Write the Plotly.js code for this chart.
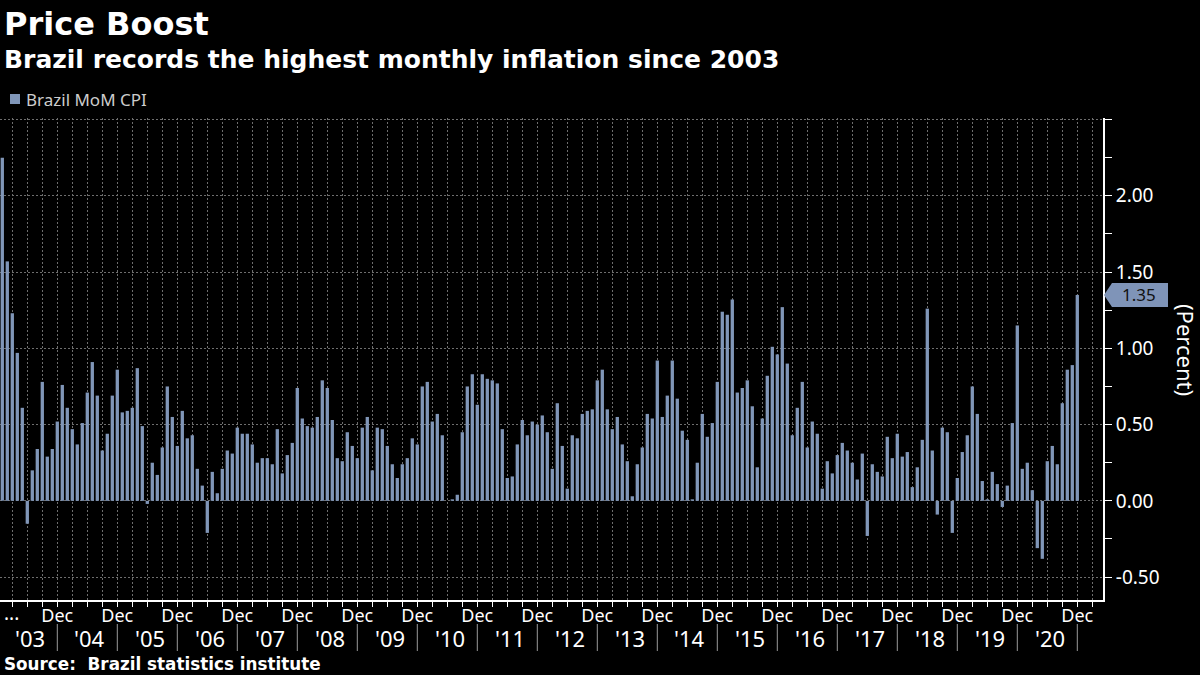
<!DOCTYPE html>
<html>
<head>
<meta charset="utf-8">
<script src="https://cdn.plot.ly/plotly-3.0.1.min.js"></script>
<style>
  html, body { margin: 0; padding: 0; background: #000; }
  #chart { width: 1200px; height: 675px; }
</style>
</head>
<body>
<div id="chart"></div>
<script>
// Brazil IPCA month-over-month, percent (Jan..Dec of each year)
const yearLabels = ["'03","'04","'05","'06","'07","'08","'09","'10","'11","'12","'13","'14","'15","'16","'17","'18","'19","'20"];
const cpi2003 = [2.25, 1.57, 1.23, 0.97, 0.61, -0.15, 0.20, 0.34, 0.78, 0.29, 0.34, 0.52];
const cpi2004 = [0.76, 0.61, 0.47, 0.37, 0.51, 0.71, 0.91, 0.69, 0.33, 0.44, 0.69, 0.86];
const cpi2005 = [0.58, 0.59, 0.61, 0.87, 0.49, -0.02, 0.25, 0.17, 0.35, 0.75, 0.55, 0.36];
const cpi2006 = [0.59, 0.41, 0.43, 0.21, 0.10, -0.21, 0.19, 0.05, 0.21, 0.33, 0.31, 0.48];
const cpi2007 = [0.44, 0.44, 0.37, 0.25, 0.28, 0.28, 0.24, 0.47, 0.18, 0.30, 0.38, 0.74];
const cpi2008 = [0.54, 0.49, 0.48, 0.55, 0.79, 0.74, 0.53, 0.28, 0.26, 0.45, 0.36, 0.28];
const cpi2009 = [0.48, 0.55, 0.20, 0.48, 0.47, 0.36, 0.24, 0.15, 0.24, 0.28, 0.41, 0.37];
const cpi2010 = [0.75, 0.78, 0.52, 0.57, 0.43, 0.00, 0.01, 0.04, 0.45, 0.75, 0.83, 0.63];
const cpi2011 = [0.83, 0.80, 0.79, 0.77, 0.47, 0.15, 0.16, 0.37, 0.53, 0.43, 0.52, 0.50];
const cpi2012 = [0.56, 0.45, 0.21, 0.64, 0.36, 0.08, 0.43, 0.41, 0.57, 0.59, 0.60, 0.79];
const cpi2013 = [0.86, 0.60, 0.47, 0.55, 0.37, 0.26, 0.03, 0.24, 0.35, 0.57, 0.54, 0.92];
const cpi2014 = [0.55, 0.69, 0.92, 0.67, 0.46, 0.40, 0.01, 0.25, 0.57, 0.42, 0.51, 0.78];
const cpi2015 = [1.24, 1.22, 1.32, 0.71, 0.74, 0.79, 0.62, 0.22, 0.54, 0.82, 1.01, 0.96];
const cpi2016 = [1.27, 0.90, 0.43, 0.61, 0.78, 0.35, 0.52, 0.44, 0.08, 0.26, 0.18, 0.30];
const cpi2017 = [0.38, 0.33, 0.25, 0.14, 0.31, -0.23, 0.24, 0.19, 0.16, 0.42, 0.28, 0.44];
const cpi2018 = [0.29, 0.32, 0.09, 0.22, 0.40, 1.26, 0.33, -0.09, 0.48, 0.45, -0.21, 0.15];
const cpi2019 = [0.32, 0.43, 0.75, 0.57, 0.13, 0.01, 0.19, 0.11, -0.04, 0.10, 0.51, 1.15];
const cpi2020 = [0.21, 0.25, 0.07, -0.31, -0.38, 0.26, 0.36, 0.24, 0.64, 0.86, 0.89, 1.35];
const yTickVals = [-0.5, 0, 0.5, 1, 1.5, 2, 2.5];
const yTickText = ["-0.50", "0.00", "0.50", "1.00", "1.50", "2.00", ""];
const seriesName = "Brazil MoM CPI";

const cpi = [].concat(cpi2003, cpi2004, cpi2005, cpi2006, cpi2007, cpi2008, cpi2009, cpi2010, cpi2011,
  cpi2012, cpi2013, cpi2014, cpi2015, cpi2016, cpi2017, cpi2018, cpi2019, cpi2020);
const monthIdx = cpi.map((_, i) => i);
const decIdx = yearLabels.map((_, k) => 11 + 12 * k);

const Y0 = -0.65, Y1 = 2.51;
const plotW = 1103, plotH = 482;
const TXT = "Noto Sans, Open Sans, sans-serif";
const BOLD = "DejaVu Sans, Verdana, sans-serif";
const grid = "#6e6e6e";
const barColor = "#8096b8";
const px = v => v / plotW;               // pixel x -> paper
const py = v => (600 - v) / plotH;        // pixel y -> paper

const annotations = [];
annotations.push({xref: "paper", yref: "paper", x: px(2), y: py(24), xanchor: "left", yanchor: "middle",
  text: "<b>Price Boost</b>", showarrow: false, font: {family: BOLD, size: 32, color: "#ffffff"}});
annotations.push({xref: "paper", yref: "paper", x: px(2), y: py(60), xanchor: "left", yanchor: "middle",
  text: "<b>Brazil records the highest monthly inflation since 2003</b>", showarrow: false, font: {family: BOLD, size: 25, color: "#ffffff"}});
annotations.push({xref: "paper", yref: "paper", x: px(2), y: py(664), xanchor: "left", yanchor: "middle",
  text: "<b>Source:  Brazil statistics institute</b>", showarrow: false, font: {family: BOLD, size: 16.8, color: "#ffffff"}});
annotations.push({xref: "paper", yref: "paper", x: px(24), y: py(100), xanchor: "left", yanchor: "middle",
  text: seriesName, showarrow: false, font: {family: TXT, size: 17, color: "#cccccc"}});
annotations.push({xref: "paper", yref: "paper", x: px(11), y: py(613), xanchor: "center", yanchor: "middle",
  text: "...", showarrow: false, font: {family: TXT, size: 19, color: "#ffffff"}});
yearLabels.forEach((lab, k) => {
  annotations.push({xref: "x", yref: "paper", x: 5.5 + 12 * k, y: py(638), xanchor: "center", yanchor: "middle",
    text: lab, showarrow: false, font: {family: TXT, size: 22, color: "#ffffff"}});
});
// last value label
const lastVal = cpi[cpi.length - 1];
const lastP = (lastVal - Y0) / (Y1 - Y0);
annotations.push({xref: "paper", yref: "paper", x: px(1139), y: lastP, xanchor: "center", yanchor: "middle",
  text: lastVal.toFixed(2), showarrow: false, font: {family: TXT, size: 17, color: "#111111"}});
annotations.push({xref: "paper", yref: "paper", x: px(1186), y: py(350), xanchor: "center", yanchor: "middle",
  text: "(Percent)", textangle: 90, showarrow: false, font: {family: TXT, size: 22, color: "#ffffff"}});

const shapes = [];
// legend swatch
shapes.push({type: "rect", xref: "paper", yref: "paper", x0: px(10), x1: px(20), y0: py(104), y1: py(94),
  fillcolor: barColor, line: {width: 0}});
decIdx.forEach(d => {
  shapes.push({type: "line", xref: "x", yref: "paper", x0: d, x1: d, y0: py(624), y1: py(651),
    line: {color: "#9a9a9a", width: 1}});
});
const hp = 12 / plotH;
const xa = px(1104), xb = px(1112), xc = px(1168);
shapes.push({type: "path", xref: "paper", yref: "paper",
  path: `M ${xa},${lastP} L ${xb},${lastP + hp} L ${xc},${lastP + hp} L ${xc},${lastP - hp} L ${xb},${lastP - hp} Z`,
  fillcolor: "#7f94b8", line: {width: 0}, layer: "above"});

const trace = {
  type: "bar", x: monthIdx, y: cpi, name: seriesName,
  marker: {color: barColor, line: {width: 0}}, width: 0.66, hoverinfo: "y"
};

const layout = {
  width: 1200, height: 675,
  paper_bgcolor: "#000000", plot_bgcolor: "#000000",
  margin: {l: 0, r: 97, t: 118, b: 75, pad: 0},
  showlegend: false,
  xaxis: {
    range: [-0.46, 220.14], tickmode: "array", tickvals: decIdx, ticktext: decIdx.map(() => "Dec"),
    ticks: "outside", ticklen: 5, tickcolor: "#ffffff", tickwidth: 1, ticklabelstandoff: -7,
    tickfont: {family: TXT, size: 18, color: "#ffffff"},
    showline: true, linecolor: "#ffffff", linewidth: 2,
    showgrid: true, gridcolor: grid, griddash: "2px,2px", gridwidth: 1, zeroline: false,
    minor: {tick0: 2, dtick: 3, ticks: "outside", ticklen: 5, tickcolor: "#ffffff", showgrid: true, gridcolor: grid, griddash: "2px,2px"},
    fixedrange: true, automargin: false
  },
  yaxis: {
    side: "right", range: [Y0, Y1], tickmode: "array", tickvals: yTickVals, ticktext: yTickText,
    ticks: "outside", ticklen: 7, tickcolor: "#ffffff", tickwidth: 1,
    tickfont: {family: TXT, size: 19, color: "#ffffff"},
    showline: true, linecolor: "#ffffff", linewidth: 2,
    showgrid: true, gridcolor: grid, griddash: "2px,2px", gridwidth: 1, zeroline: false,
    minor: {dtick: 0.25, tick0: 0, ticks: "outside", ticklen: 7, tickcolor: "#ffffff", showgrid: false},
    fixedrange: true, automargin: false
  },
  annotations: annotations,
  shapes: shapes
};

Plotly.newPlot("chart", [trace], layout, {displayModeBar: false, staticPlot: true});
</script>
</body>
</html>
